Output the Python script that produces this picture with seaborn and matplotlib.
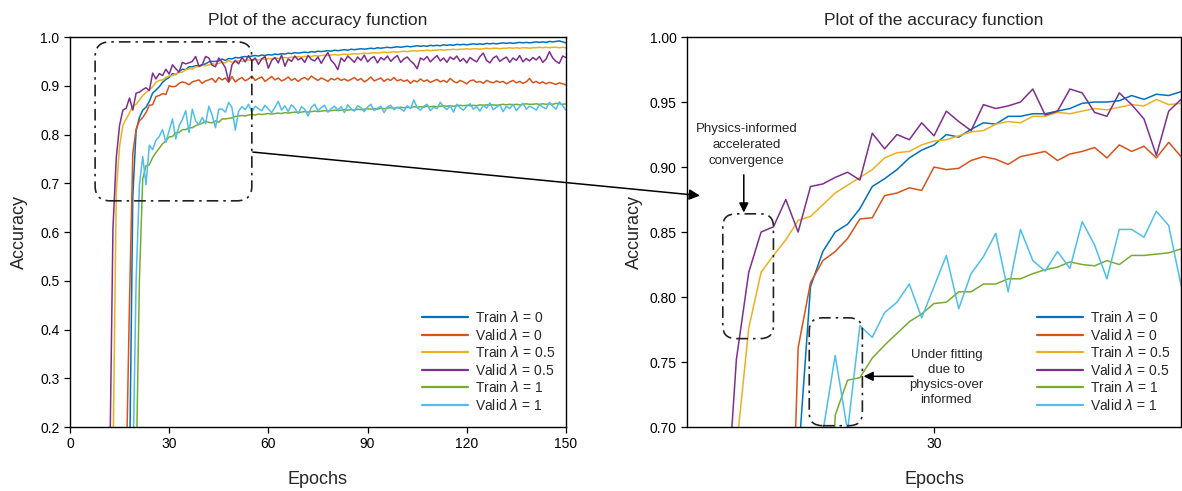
import numpy as np
import pandas as pd
import matplotlib
matplotlib.use("Agg")
import matplotlib.pyplot as plt
import seaborn as sns
from matplotlib.patches import FancyBboxPatch, ConnectionPatch

# ---------------- data ----------------
series_names = ["Train $\\lambda$ = 0", "Valid $\\lambda$ = 0", "Train $\\lambda$ = 0.5",
                "Valid $\\lambda$ = 0.5", "Train $\\lambda$ = 1", "Valid $\\lambda$ = 1"]
series_colors = ["#0072BD", "#D95319", "#EDB120", "#7E2F8E", "#77AC30", "#4DBEEE"]
series_start = [18, 17, 13, 12, 20, 19]   # first epoch listed for each series

train_l0 = [0.10, 0.673, 0.808, 0.835, 0.850, 0.856, 0.868, 0.885, 0.891, 0.898,
            0.907, 0.913, 0.917, 0.925, 0.923, 0.929, 0.934, 0.933, 0.939, 0.939,
            0.941, 0.941, 0.943, 0.945, 0.949, 0.950, 0.950, 0.951, 0.955, 0.952,
            0.956, 0.955, 0.958,
            0.957, 0.959, 0.960, 0.959, 0.961, 0.962, 0.961, 0.963, 0.962, 0.964,
            0.963, 0.965, 0.964, 0.966, 0.965, 0.967, 0.966, 0.968, 0.967, 0.968,
            0.969, 0.968, 0.970, 0.969, 0.971, 0.970, 0.971, 0.972, 0.971, 0.973,
            0.972, 0.973, 0.974, 0.973, 0.975, 0.974, 0.975, 0.976, 0.975, 0.976,
            0.977, 0.976, 0.978, 0.977, 0.978, 0.979, 0.978, 0.979, 0.980, 0.979,
            0.980, 0.981, 0.980, 0.981, 0.982, 0.981, 0.982, 0.981, 0.983, 0.982,
            0.983, 0.982, 0.984, 0.983, 0.984, 0.983, 0.985, 0.984, 0.985, 0.984,
            0.985, 0.986, 0.985, 0.986, 0.985, 0.987, 0.986, 0.987, 0.986, 0.987,
            0.988, 0.987, 0.988, 0.987, 0.988, 0.989, 0.988, 0.989, 0.988, 0.989,
            0.990, 0.989, 0.990, 0.989, 0.991, 0.990, 0.991, 0.992, 0.990, 0.988]

valid_l0 = [0.10, 0.455, 0.761, 0.811, 0.828, 0.835, 0.845, 0.860, 0.861, 0.878,
            0.880, 0.884, 0.882, 0.900, 0.898, 0.899, 0.905, 0.908, 0.906, 0.902,
            0.908, 0.910, 0.912, 0.905, 0.910, 0.912, 0.915, 0.907, 0.917, 0.912,
            0.916, 0.907, 0.919, 0.908,
            0.913, 0.917, 0.910, 0.914, 0.920, 0.911, 0.915, 0.918, 0.909, 0.914,
            0.919, 0.912, 0.916, 0.910, 0.913, 0.918, 0.911, 0.915, 0.909, 0.914,
            0.917, 0.912, 0.920, 0.915, 0.911, 0.916, 0.913, 0.909, 0.915, 0.912,
            0.916, 0.911, 0.914, 0.910, 0.913, 0.917, 0.911, 0.915, 0.908, 0.912,
            0.918, 0.910, 0.913, 0.916, 0.909, 0.914, 0.911, 0.917, 0.910, 0.913,
            0.909, 0.912, 0.905, 0.911, 0.908, 0.914, 0.909, 0.912, 0.907, 0.910,
            0.913, 0.908, 0.911, 0.907, 0.915, 0.909, 0.906, 0.911, 0.908, 0.904,
            0.910, 0.912, 0.907, 0.909, 0.905, 0.911, 0.908, 0.906, 0.910, 0.907,
            0.909, 0.904, 0.908, 0.911, 0.906, 0.909, 0.905, 0.908, 0.915, 0.906,
            0.909, 0.905, 0.908, 0.904, 0.907, 0.905, 0.903, 0.906, 0.904, 0.902]

train_l05 = [0.12, 0.683, 0.776, 0.819, 0.832, 0.844, 0.859, 0.862, 0.871, 0.880,
             0.886, 0.892, 0.898, 0.907, 0.911, 0.912, 0.917, 0.920, 0.921, 0.924,
             0.927, 0.928, 0.933, 0.935, 0.934, 0.939, 0.939, 0.942, 0.941, 0.943,
             0.945, 0.944, 0.946, 0.948, 0.947, 0.952, 0.948, 0.949,
             0.951, 0.950, 0.952, 0.953, 0.952, 0.954, 0.953, 0.955, 0.954, 0.956,
             0.955, 0.957, 0.956, 0.957, 0.958, 0.957, 0.959, 0.958, 0.960, 0.959,
             0.960, 0.961, 0.960, 0.962, 0.961, 0.962, 0.963, 0.962, 0.963, 0.964,
             0.963, 0.964, 0.965, 0.964, 0.965, 0.966, 0.965, 0.966, 0.967, 0.966,
             0.967, 0.968, 0.967, 0.968, 0.969, 0.968, 0.969, 0.970, 0.969, 0.970,
             0.971, 0.970, 0.971, 0.972, 0.971, 0.972, 0.972, 0.973, 0.972, 0.973,
             0.973, 0.974, 0.973, 0.974, 0.974, 0.975, 0.974, 0.975, 0.975, 0.976,
             0.975, 0.976, 0.976, 0.975, 0.976, 0.977, 0.976, 0.977, 0.977, 0.976,
             0.977, 0.977, 0.978, 0.977, 0.978, 0.977, 0.978, 0.978, 0.977, 0.978,
             0.978, 0.979, 0.978, 0.979, 0.978, 0.979, 0.979, 0.978, 0.979, 0.978]

valid_l05 = [0.10, 0.608, 0.752, 0.819, 0.850, 0.854, 0.875, 0.850, 0.885, 0.887,
             0.892, 0.896, 0.890, 0.926, 0.914, 0.925, 0.921, 0.934, 0.924, 0.943,
             0.935, 0.928, 0.948, 0.945, 0.947, 0.950, 0.960, 0.940, 0.943, 0.960,
             0.957, 0.942, 0.939, 0.957, 0.948, 0.937, 0.909, 0.943, 0.952,
             0.945, 0.958, 0.949, 0.962, 0.951, 0.957, 0.944, 0.955, 0.960, 0.936,
             0.952, 0.958, 0.947, 0.963, 0.940, 0.955, 0.950, 0.961, 0.953, 0.957,
             0.948, 0.962, 0.954, 0.951, 0.959, 0.946, 0.958, 0.968, 0.952, 0.945,
             0.933, 0.957, 0.950, 0.961, 0.955, 0.948, 0.959, 0.952, 0.963, 0.949,
             0.956, 0.960, 0.947, 0.958, 0.953, 0.961, 0.950, 0.957, 0.962, 0.948,
             0.955, 0.959, 0.951, 0.945, 0.935, 0.957, 0.953, 0.960, 0.949, 0.956,
             0.962, 0.951, 0.957, 0.948, 0.959, 0.954, 0.961, 0.950, 0.956, 0.947,
             0.958, 0.953, 0.949, 0.960, 0.967, 0.952, 0.947, 0.957, 0.961, 0.950,
             0.955, 0.959, 0.948, 0.957, 0.952, 0.962, 0.949, 0.956, 0.951, 0.958,
             0.953, 0.960, 0.948, 0.955, 0.970, 0.957, 0.950, 0.946, 0.961, 0.958]

train_l1 = [0.10, 0.500, 0.709, 0.736, 0.738, 0.753, 0.763, 0.772, 0.781, 0.787,
            0.795, 0.796, 0.804, 0.804, 0.810, 0.810, 0.814, 0.814, 0.818, 0.821,
            0.823, 0.827, 0.825, 0.824, 0.828, 0.825, 0.832, 0.832, 0.833, 0.834,
            0.837,
            0.838, 0.839, 0.838, 0.840, 0.841, 0.840, 0.842, 0.841, 0.842, 0.843,
            0.842, 0.843, 0.844, 0.843, 0.845, 0.844, 0.845, 0.846, 0.845, 0.846,
            0.847, 0.846, 0.847, 0.848, 0.847, 0.848, 0.849, 0.848, 0.849, 0.850,
            0.849, 0.850, 0.851, 0.850, 0.851, 0.850, 0.852, 0.851, 0.852, 0.853,
            0.852, 0.853, 0.852, 0.854, 0.853, 0.854, 0.855, 0.854, 0.855, 0.856,
            0.855, 0.856, 0.855, 0.857, 0.856, 0.857, 0.856, 0.858, 0.857, 0.858,
            0.857, 0.858, 0.859, 0.858, 0.859, 0.858, 0.859, 0.860, 0.859, 0.860,
            0.859, 0.860, 0.859, 0.861, 0.860, 0.861, 0.860, 0.861, 0.860, 0.861,
            0.862, 0.861, 0.862, 0.861, 0.862, 0.861, 0.862, 0.863, 0.862, 0.862,
            0.863, 0.862, 0.863, 0.862, 0.863, 0.862, 0.864, 0.863, 0.862, 0.863]

valid_l1 = [0.10, 0.500, 0.696, 0.755, 0.697, 0.778, 0.769, 0.788, 0.796, 0.810,
            0.784, 0.808, 0.832, 0.791, 0.818, 0.831, 0.849, 0.804, 0.852, 0.828,
            0.820, 0.835, 0.822, 0.858, 0.840, 0.814, 0.852, 0.852, 0.846, 0.866,
            0.855, 0.809,
            0.848, 0.857, 0.851, 0.862, 0.846, 0.858, 0.853, 0.849, 0.860, 0.852,
            0.845, 0.856, 0.868, 0.850, 0.859, 0.847, 0.861, 0.854, 0.843, 0.857,
            0.852, 0.838, 0.856, 0.862, 0.849, 0.855, 0.860, 0.846, 0.853, 0.858,
            0.850, 0.857, 0.845, 0.861, 0.853, 0.848, 0.859, 0.855, 0.847, 0.856,
            0.862, 0.849, 0.854, 0.858, 0.845, 0.857, 0.860, 0.851, 0.856, 0.853,
            0.848, 0.859, 0.853, 0.871, 0.855, 0.850, 0.858, 0.862, 0.849, 0.856,
            0.853, 0.866, 0.857, 0.851, 0.859, 0.846, 0.862, 0.855, 0.850, 0.858,
            0.863, 0.852, 0.857, 0.848, 0.860, 0.854, 0.865, 0.851, 0.856, 0.861,
            0.847, 0.858, 0.853, 0.862, 0.849, 0.857, 0.864, 0.852, 0.858, 0.855,
            0.850, 0.861, 0.856, 0.853, 0.866, 0.858, 0.852, 0.867, 0.859, 0.850]

left_xticks = [0, 30, 60, 90, 120, 150]
left_yticks = [0.2, 0.3, 0.4, 0.5, 0.6, 0.7, 0.8, 0.9, 1.0]
right_xticks = [30]
right_yticks = [0.70, 0.75, 0.80, 0.85, 0.90, 0.95, 1.00]

title_text = "Plot of the accuracy function"
note_fast = "Physics-informed\naccelerated\nconvergence"
note_under = "Under fitting\ndue to\nphysics-over\ninformed"

# ---------------- build long-form frame ----------------
all_values = [train_l0, valid_l0, train_l05, valid_l05, train_l1, valid_l1]
rows = []
for name, start, vals in zip(series_names, series_start, all_values):
    for i, v in enumerate(vals):
        rows.append((name, start + i, v))
df = pd.DataFrame(rows, columns=["Series", "Epoch", "Accuracy"])

# ---------------- style ----------------
sns.set_style("ticks")
plt.rcParams["font.family"] = ["Liberation Sans", "DejaVu Sans"]
plt.rcParams["axes.edgecolor"] = "black"
plt.rcParams["axes.linewidth"] = 1.0

fig = plt.figure(figsize=(11.82, 4.91), dpi=100)
ax1 = fig.add_axes([0.0592, 0.1303, 0.4196, 0.7943])
ax2 = fig.add_axes([0.5812, 0.1303, 0.4180, 0.7943])

palette = dict(zip(series_names, series_colors))

for ax in (ax1, ax2):
    sns.lineplot(data=df, x="Epoch", y="Accuracy", hue="Series",
                 hue_order=series_names, palette=palette, ax=ax,
                 linewidth=1.1, estimator=None, sort=True)
    ax.set_title(title_text, fontsize=12.5, pad=9)
    ax.set_xlabel("Epochs", fontsize=13, labelpad=14)
    ax.tick_params(axis="both", direction="out", length=4, width=0.9,
                   labelsize=10, colors="black")
    for s in ax.spines.values():
        s.set_visible(True)
        s.set_color("black")
        s.set_linewidth(1.0)
    leg = ax.legend(loc="lower right", bbox_to_anchor=(0.995, 0.015),
                    frameon=False, fontsize=10, handlelength=3.3,
                    handletextpad=0.5, labelspacing=0.18, borderaxespad=0.2)
    for h in leg.get_lines():
        h.set_linewidth(1.6)

ax1.set_xlim(0, 150)
ax1.set_ylim(0.2, 1.0)
ax1.set_xticks(left_xticks)
ax1.set_yticks(left_yticks)
ax1.set_yticklabels([f"{t:.1f}" for t in left_yticks])
ax1.set_ylabel("Accuracy", fontsize=13, labelpad=9)

ax2.set_xlim(10, 50)
ax2.set_ylim(0.70, 1.00)
ax2.set_xticks(right_xticks)
ax2.set_yticks(right_yticks)
ax2.set_yticklabels([f"{t:.2f}" for t in right_yticks])
ax2.set_ylabel("Accuracy", fontsize=13, labelpad=5)

dashdot = (0, (7, 3, 1.5, 3))

# zoom box on left plot (rounded, dash-dot)
box1 = FancyBboxPatch((7.6, 0.664), 55.0 - 7.6, 0.990 - 0.664,
                      boxstyle="round,pad=0,rounding_size=4.5",
                      mutation_aspect=0.0068, fill=False, edgecolor="#222222",
                      linewidth=1.2, linestyle=dashdot, clip_on=False, zorder=5)
ax1.add_patch(box1)

# boxes on right plot
box2 = FancyBboxPatch((12.9, 0.768), 17.0 - 12.9, 0.864 - 0.768,
                      boxstyle="round,pad=0,rounding_size=1.1",
                      mutation_aspect=0.0088, fill=False, edgecolor="#222222",
                      linewidth=1.2, linestyle=dashdot, zorder=5)
ax2.add_patch(box2)
box3 = FancyBboxPatch((19.9, 0.701), 24.2 - 19.9, 0.784 - 0.701,
                      boxstyle="round,pad=0,rounding_size=1.1",
                      mutation_aspect=0.0088, fill=False, edgecolor="#222222",
                      linewidth=1.2, linestyle=dashdot, zorder=5)
ax2.add_patch(box3)

# big connecting arrow
con = ConnectionPatch(xyA=(55.3, 0.764), coordsA=ax1.transData,
                      xyB=(11.05, 0.878), coordsB=ax2.transData,
                      arrowstyle="-|>", mutation_scale=16, color="black",
                      linewidth=1.1, shrinkA=0, shrinkB=0)
fig.add_artist(con)

# annotations on right plot
ax2.text(14.8, 0.917, note_fast, ha="center", va="center", fontsize=9.5,
         linespacing=1.4)
ax2.annotate("", xy=(14.6, 0.865), xytext=(14.6, 0.894),
             arrowprops=dict(arrowstyle="-|>", color="black", lw=1.1,
                             mutation_scale=14, shrinkA=0, shrinkB=0))
ax2.text(31.0, 0.738, note_under, ha="center", va="center", fontsize=9.5,
         linespacing=1.35)
ax2.annotate("", xy=(24.3, 0.739), xytext=(28.3, 0.739),
             arrowprops=dict(arrowstyle="-|>", color="black", lw=1.1,
                             mutation_scale=14, shrinkA=0, shrinkB=0))

fig.savefig("out.png", dpi=100)
